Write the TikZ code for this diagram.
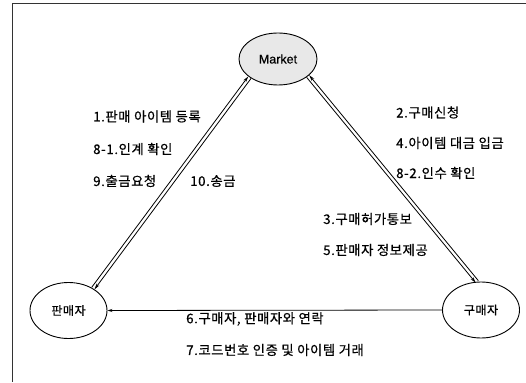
\documentclass[tikz,border=0pt]{standalone}
\usepackage{fontspec}
\setmainfont{Noto Sans CJK KR}[FakeBold=0.6, LetterSpace=4.5]
\newfontfamily\latinfont{Liberation Sans}[FakeBold=0.6]
\usetikzlibrary{arrows.meta,shapes.geometric}
\tikzset{
  ell/.style={draw, ellipse, line width=0.9pt, minimum width=77pt, minimum height=56pt, inner sep=0pt,
    font=\fontsize{12}{14}\selectfont},
  lbl/.style={anchor=west, inner sep=0pt, font=\fontsize{13.3}{15}\selectfont},
  arr/.style={line width=0.8pt, -{Stealth[length=6pt,width=3.2pt]}},
  frame/.style={line width=0.8pt, draw=black!80},
}
\begin{document}
\begin{tikzpicture}[x=1pt,y=-1pt]
\useasboundingbox (0,0) rectangle (526,382);
% frame
\draw[frame] (526,3.5) -- (12,3.5) -- (12,382);
% nodes
\node[ell, fill=gray!18, minimum width=78pt, minimum height=52pt] (m) at (278,59)
  {\latinfont\fontsize{12.5}{14}\selectfont Market};
\node[ell] (s) at (68.5,310.5) {판매자};
\node[ell] (b) at (481,310) {구매자};
% left double connector
\draw[arr, transform canvas={shift={(-1.4pt,1.0pt)}}] (s.42) -- (m.213);
\draw[arr, transform canvas={shift={(1.4pt,-1.0pt)}}] (m.213) -- (s.42);
% right double connector
\draw[arr, transform canvas={shift={(1.3pt,1.05pt)}}] (b.98) -- (m.330);
\draw[arr, transform canvas={shift={(-1.3pt,-1.05pt)}}] (m.330) -- (b.98);
% bottom connector
\draw[line width=0.8pt, -{Stealth[length=5pt,width=3pt]}] (b.west) -- (s.east);
% labels
\node[lbl] (l1) at (93,116.5) {1.판매 아이템 등록};
\node[lbl] (l81) at (93,149) {8-1.인계 확인};
\node[lbl] (l9) at (93,181) {9.출금요청};
\node[lbl] (l10) at (190,181) {10.송금};
\node[lbl] (l2) at (396,112.5) {2.구매신청};
\node[lbl] (l4) at (396,143) {4.아이템 대금 입금};
\node[lbl] (l82) at (396,173) {8-2.인수 확인};
\node[lbl] (l3) at (323,219) {3.구매허가통보};
\node[lbl] (l5) at (323,250) {5.판매자 정보제공};
\node[lbl] (l6) at (186,319) {6.구매자, 판매자와 연락};
\node[lbl] (l7) at (186,350) {7.코드번호 인증 및 아이템 거래};
\end{tikzpicture}
\end{document}
